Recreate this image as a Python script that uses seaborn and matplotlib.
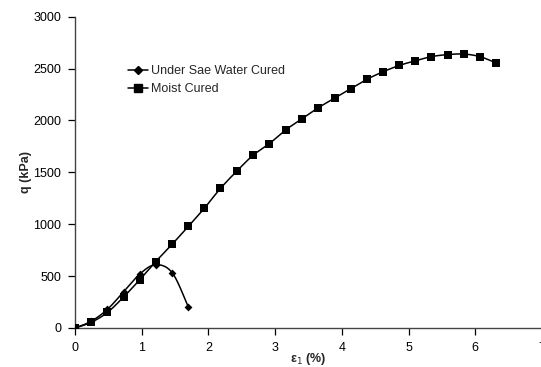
import numpy as np
import pandas as pd
import matplotlib
matplotlib.use("Agg")
import matplotlib.pyplot as plt
import seaborn as sns

sea_x = [0, 0.243, 0.486, 0.73, 0.97, 1.21, 1.46, 1.70]
sea_q = [0, 65, 180, 350, 520, 610, 530, 200]

moist_x = [0, 0.243, 0.486, 0.73, 0.97, 1.21, 1.46, 1.70, 1.94, 2.18, 2.43, 2.67,
           2.91, 3.16, 3.40, 3.64, 3.89, 4.13, 4.37, 4.62, 4.86, 5.10, 5.34, 5.59,
           5.83, 6.07, 6.31]
moist_q = [0, 55, 150, 300, 465, 640, 810, 980, 1155, 1345, 1515, 1665,
           1775, 1910, 2015, 2120, 2215, 2305, 2395, 2470, 2530, 2575, 2615, 2635,
           2640, 2615, 2555]

sea_label = "Under Sae Water Cured"
moist_label = "Moist Cured"


def smooth(x, y, n=20):
    # Catmull-Rom path through the points (like spreadsheet "smoothed line")
    x = np.asarray(x, float); y = np.asarray(y, float)
    P = np.column_stack([x, y])
    P = np.vstack([P[0], P, P[-1]])
    out = []
    t = np.linspace(0, 1, n, endpoint=False)
    for i in range(1, len(P) - 2):
        p0, p1, p2, p3 = P[i - 1], P[i], P[i + 1], P[i + 2]
        c1 = p1 + (p2 - p0) / 6
        c2 = p2 - (p3 - p1) / 6
        seg = ((1 - t)[:, None] ** 3 * p1 + 3 * ((1 - t) ** 2 * t)[:, None] * c1
               + 3 * ((1 - t) * t ** 2)[:, None] * c2 + (t ** 3)[:, None] * p2)
        out.append(seg)
    out.append(P[-2][None, :])
    a = np.vstack(out)
    return a[:, 0], a[:, 1]


sns.set_theme(style="ticks")
plt.rcParams['font.family'] = ['Liberation Sans', 'DejaVu Sans']

fig = plt.figure(figsize=(5.41, 3.67), dpi=100)
ax = fig.add_axes([75 / 541, 1 - 328 / 367, 467 / 541, (328 - 16.7) / 367])

sx, sy = smooth(sea_x, sea_q)
mx, my = smooth(moist_x, moist_q)
ax.plot(sx, sy, color="black", lw=1.1, zorder=2)
ax.plot(mx, my, color="black", lw=1.1, zorder=2)

sns.scatterplot(x=sea_x, y=sea_q, marker="D", s=16, color="black",
                edgecolor="black", linewidth=0, ax=ax, zorder=3)
sns.scatterplot(x=moist_x, y=moist_q, marker="s", s=32, color="black",
                edgecolor="black", linewidth=0, ax=ax, zorder=3)

h1, = ax.plot([], [], color="black", lw=1.1, marker="D", ms=3.8, label=sea_label)
h2, = ax.plot([], [], color="black", lw=1.1, marker="s", ms=5.5, label=moist_label)
leg = ax.legend(handles=[h1, h2], loc="upper left", bbox_to_anchor=(53 / 467, (328 - 65) / 311.3),
                frameon=False, fontsize=9, handlelength=1.6, handletextpad=0.25,
                borderpad=0, borderaxespad=0, labelspacing=0.5)

ax.set_xlim(0, 7)
ax.set_ylim(0, 3000)
ax.set_xticks(range(0, 8))
ax.set_yticks(range(0, 3001, 500))
ax.tick_params(axis="both", labelsize=9, length=5, width=0.9, direction="out",
               colors="black")
ax.tick_params(axis="x", pad=5)
ax.tick_params(axis="y", pad=5)
for s in ["top", "right"]:
    ax.spines[s].set_visible(False)
for s in ["left", "bottom"]:
    ax.spines[s].set_color("#444444")
    ax.spines[s].set_linewidth(1.0)

ax.set_xlabel("ε$_1$ (%)", fontsize=9, fontweight="bold", labelpad=0)
ax.xaxis.set_label_coords(233 / 467, -(359 - 328) / (328 - 16.7), transform=ax.transAxes)
ax.xaxis.label.set_va("center")
ax.set_ylabel("q (kPa)", fontsize=9, fontweight="bold")
ax.yaxis.set_label_coords(-(75 - 26) / 467, 0.5, transform=ax.transAxes)
ax.yaxis.label.set_va("center")

fig.savefig("out.png", dpi=100)
